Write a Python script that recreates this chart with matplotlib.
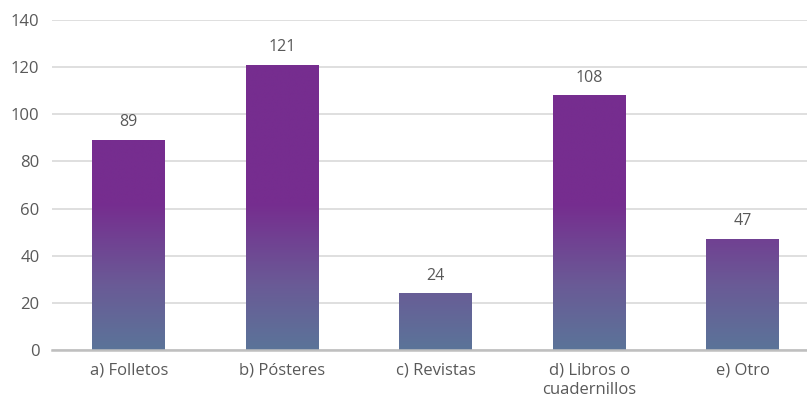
import matplotlib
matplotlib.use("Agg")
import matplotlib.pyplot as plt
import numpy as np
from matplotlib.colors import LinearSegmentedColormap

categories = ["a) Folletos", "b) Pósteres", "c) Revistas", "d) Libros o\ncuadernillos", "e) Otro"]
values = [89, 121, 24, 108, 47]
yticks = [0, 20, 40, 60, 80, 100, 120, 140]

plt.rcParams['font.family'] = ['Open Sans', 'DejaVu Sans']
text_color = '#595959'

fig = plt.figure(figsize=8.07 * np.array([1, 401 / 807]), dpi=100)
ax = fig.add_axes([52 / 807, 51 / 401, 1 - 52 / 807, (350 - 20) / 401])

x = np.arange(len(categories))
width = 0.475
ax.set_xlim(-0.5, 4.42)
ax.set_ylim(0, 140)

bars = ax.bar(x, values, width=width, color='none', zorder=3)

cmap = LinearSegmentedColormap.from_list('g', [(0, '#5B7499'), (0.45, '#6A5A96'), (1, '#762D8F')])
grad_top = 62
yy = np.linspace(0, 140, 700)
frac = np.clip(yy / grad_top, 0, 1).reshape(-1, 1)
for b in bars:
    x0 = b.get_x()
    im = ax.imshow(frac, cmap=cmap, vmin=0, vmax=1, origin='lower', aspect='auto',
                   extent=[x0, x0 + b.get_width(), 0, 140], zorder=3, interpolation='bilinear')
    im.set_clip_path(b)

for xi, v in zip(x, values):
    ax.annotate(str(v), (xi, v), xytext=(0, 7), textcoords='offset points',
                ha='center', va='bottom', fontsize=11.5, color=text_color)

ax.set_yticks(yticks)
ax.set_yticklabels([str(t) for t in yticks])
ax.set_xticks(x)
ax.set_xticklabels(categories)
ax.tick_params(axis='y', length=0, pad=9, labelsize=12, labelcolor=text_color)
ax.tick_params(axis='x', length=0, pad=9, labelsize=12, labelcolor=text_color)
for lab in ax.get_xticklabels():
    lab.set_linespacing(1.3)

ax.grid(axis='y', color='#D9D9D9', linewidth=1.2, zorder=0)
ax.set_axisbelow(True)
for s in ['top', 'right', 'left']:
    ax.spines[s].set_visible(False)
ax.spines['bottom'].set_color('#BFBFBF')
ax.spines['bottom'].set_linewidth(1.8)
ax.spines['bottom'].set_zorder(4)

fig.savefig('out.png', dpi=100)
